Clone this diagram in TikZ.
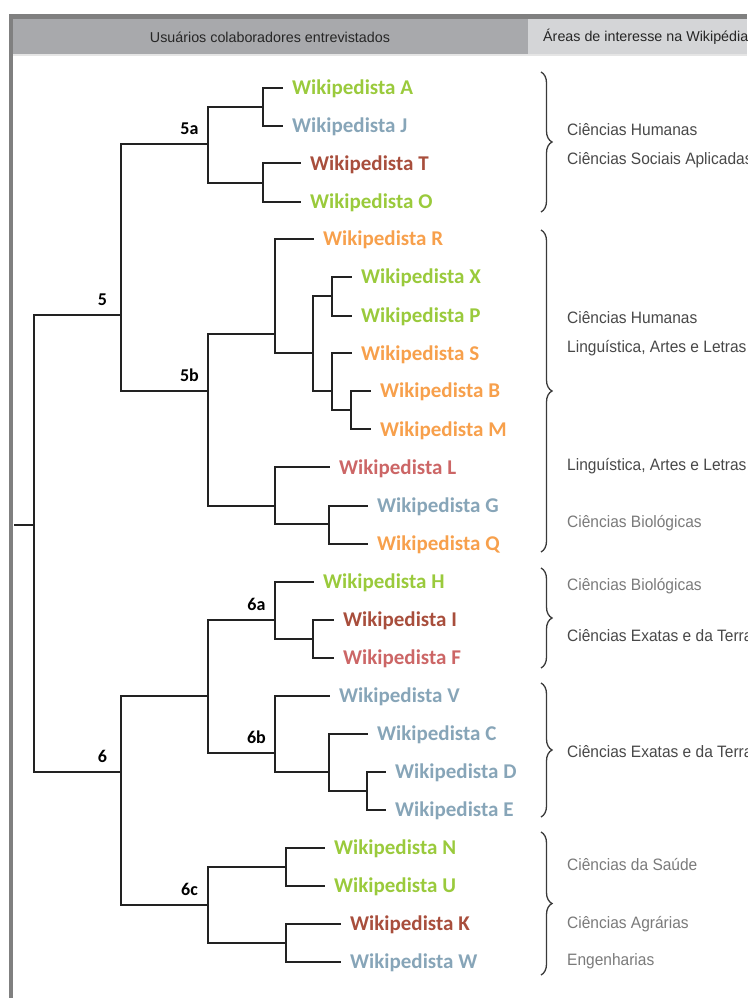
\documentclass[tikz,border=0pt]{standalone}
\usepackage{fontspec}
\usepackage{tikz}
\usetikzlibrary{
  positioning,
  decorations.pathreplacing
}
\newfontfamily\namefont{Carlito}
\newfontfamily\areafont[FakeStretch=0.94]{Liberation Sans}
\newfontfamily\headfont{Liberation Sans}
\usepackage{xcolor}
\definecolor{wikigreen} {RGB}{154, 202,  60}
\definecolor{wikiblue}  {RGB}{135, 165, 184}
\definecolor{wikibrown} {RGB}{168,  78,  60}
\definecolor{wikiorange}{RGB}{247, 160,  76}
\definecolor{wikirose}  {RGB}{204, 102, 102}
\definecolor{treegray}  {RGB}{ 34,  34,  34}
\definecolor{bracegray} {RGB}{ 58,  58,  58}
\definecolor{areadark}  {RGB}{ 72,  72,  72}
\definecolor{arealight} {RGB}{122, 122, 122}
\definecolor{headdark}  {RGB}{168, 169, 172}
\definecolor{headlight} {RGB}{212, 213, 215}
\definecolor{framegray} {RGB}{128, 128, 128}
\tikzset{
  leaf/.style={
    text=#1, anchor=west, inner xsep=10pt, inner ysep=0pt,
    text height=13.5pt, text depth=0pt,
    font=\namefont\bfseries\fontsize{21}{21}\selectfont
  },
  branch/.style={draw=treegray, line width=2.2pt, line cap=rect},
  junclabel/.style={
    inner sep=0pt, font=\namefont\bfseries\fontsize{18}{18}\selectfont
  },
  area/.style={
    text=#1, anchor=west, inner sep=0pt,
    text height=11.8pt, text depth=0pt,
    font=\areafont\fontsize{16.5}{16.5}\selectfont
  },
  areabrace/.style={
    draw=bracegray, line width=1.3pt, decorate,
    decoration={brace, amplitude=11pt}
  },
  headtext/.style={
    inner sep=0pt, text=black!85, font=\headfont\fontsize{14.3}{14.3}\selectfont
  },
}

\begin{document}
\begin{tikzpicture}[x=1pt, y=-1pt]

\useasboundingbox (0,0) rectangle (747,998);
\clip (0,0) rectangle (747,998);

% ── Frame and header ──────────────────────────────────────────────────────────
\fill[framegray] (9,14) rectangle (747,19);
\fill[framegray] (9,14) rectangle (13,998);
\fill[headdark]  (13,19) rectangle (528,54);
\fill[headlight] (528,19) rectangle (747,54);
\fill[black!10]  (13,54) rectangle (747,56);

\node[headtext] (husers) at (270,37) {Usuários colaboradores entrevistados};
\node[headtext, anchor=west] (hareas) at (543,37) {Áreas de interesse na Wikipédia};

% ── Junctions ─────────────────────────────────────────────────────────────────
\coordinate (root)  at (15,525);
\coordinate (jroot) at (34,525);
\coordinate (j5)    at (121,315);
\coordinate (j5a)   at (208,144);
\coordinate (j5b)   at (208,391);
\coordinate (jAJ)   at (263,106.7);
\coordinate (jTO)   at (263,182.7);
\coordinate (jRX)   at (275,334);
\coordinate (jXS)   at (313,353);
\coordinate (jXP)   at (332,296);
\coordinate (jSB)   at (332,391);
\coordinate (jBM)   at (351,410);
\coordinate (jLG)   at (275,505.7);
\coordinate (jGQ)   at (329,524.3);
\coordinate (j6)    at (121,772);
\coordinate (j6ab)  at (208,696);
\coordinate (j6c)   at (208,905);
\coordinate (j6a)   at (275,620);
\coordinate (j6b)   at (275,752.7);
\coordinate (jIF)   at (313,639);
\coordinate (jVC)   at (329,772);
\coordinate (jCD)   at (367,791);
\coordinate (jNU)   at (286,867.3);
\coordinate (jKW)   at (286,943.3);

% ── Wikipedistas (leaves) ─────────────────────────────────────────────────────
\foreach \id/\x/\y/\col in {
  A/282/87.7/wikigreen,   J/282/125.7/wikiblue,
  T/300/163.3/wikibrown,  O/300/201.7/wikigreen,
  R/313/239/wikiorange,
  X/351/277/wikigreen,    P/351/316/wikigreen,
  S/351/353.3/wikiorange,
  B/370/391/wikiorange,   M/370/429.3/wikiorange,
  L/329/467.3/wikirose,
  G/367/505.7/wikiblue,   Q/367/543.7/wikiorange,
  H/313/581.7/wikigreen,
  I/333/620/wikibrown,    F/333/658/wikirose,
  V/329/696/wikiblue,
  C/367/734/wikiblue,
  D/385/772/wikiblue,     E/385/810/wikiblue,
  N/324/848/wikigreen,    U/324/886/wikigreen,
  K/340/924/wikibrown,    W/340/962/wikiblue}
  \node[leaf=\col] (\id) at (\x,\y) {Wikipedista \id};

% ── Dendrogram branches ───────────────────────────────────────────────────────
\draw[branch] (root) -- (jroot);
\foreach \p/\c in {
  jroot/j5, jroot/j6,
  j5/j5a, j5/j5b,
  j5a/jAJ, j5a/jTO, jAJ/A.west, jAJ/J.west, jTO/T.west, jTO/O.west,
  j5b/jRX, j5b/jLG, jRX/R.west, jRX/jXS,
  jXS/jXP, jXS/jSB, jXP/X.west, jXP/P.west,
  jSB/S.west, jSB/jBM, jBM/B.west, jBM/M.west,
  jLG/L.west, jLG/jGQ, jGQ/G.west, jGQ/Q.west,
  j6/j6ab, j6/j6c,
  j6ab/j6a, j6ab/j6b, j6a/H.west, j6a/jIF, jIF/I.west, jIF/F.west,
  j6b/V.west, j6b/jVC, jVC/C.west, jVC/jCD, jCD/D.west, jCD/E.west,
  j6c/jNU, j6c/jKW, jNU/N.west, jNU/U.west, jKW/K.west, jKW/W.west}
  \draw[branch] (\p) |- (\c);

% ── Cluster labels ────────────────────────────────────────────────────────────
\foreach \j/\t in {j5/5, j5a/5a, j5b/5b, j6/6, j6a/6a, j6b/6b, j6c/6c}
  \node[junclabel, above=9pt of \j, xshift=-18.5pt] (l\j) {\t};

% ── Areas of interest ─────────────────────────────────────────────────────────
\draw[areabrace] (541,72)  -- (541,212);
\draw[areabrace] (541,230) -- (541,552);
\draw[areabrace] (541,568) -- (541,668);
\draw[areabrace] (541,683) -- (541,817);
\draw[areabrace] (541,832) -- (541,975);

\node[area=areadark]  (a1) at (567,130)   {Ciências Humanas};
\node[area=areadark]  (a2) at (567,159)   {Ciências Sociais Aplicadas};
\node[area=areadark]  (a3) at (567,318)   {Ciências Humanas};
\node[area=areadark]  (a4) at (567,347)   {Linguística, Artes e Letras};
\node[area=areadark]  (a5) at (567,465)   {Linguística, Artes e Letras};
\node[area=arealight] (a6) at (567,521.7) {Ciências Biológicas};
\node[area=arealight] (a7) at (567,585)   {Ciências Biológicas};
\node[area=areadark]  (a8) at (567,636)   {Ciências Exatas e da Terra};
\node[area=areadark]  (a9) at (567,752)   {Ciências Exatas e da Terra};
\node[area=arealight] (a10) at (567,865)  {Ciências da Saúde};
\node[area=arealight] (a11) at (567,923)  {Ciências Agrárias};
\node[area=arealight] (a12) at (567,960)  {Engenharias};

\end{tikzpicture}
\end{document}
